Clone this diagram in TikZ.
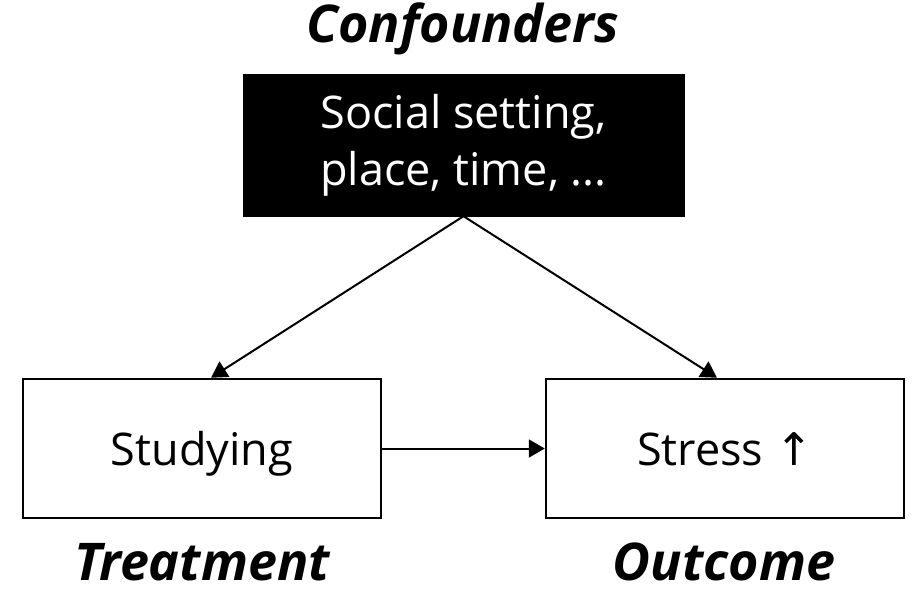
\documentclass[tikz,border=0pt]{standalone}
\usepackage{fontspec}
\setmainfont{Open Sans}
\newfontfamily\arrowfont{DejaVu Sans}
\usetikzlibrary{arrows.meta}
\tikzset{
  box/.style={draw=black, line width=2.5pt, minimum width=358pt, minimum height=139pt,
    inner sep=0pt, text height=33pt, text depth=0pt,
    font=\fontsize{45}{57}\selectfont},
  confbox/.style={fill=black, draw=black, text=white, minimum width=441pt,
    minimum height=142pt, inner sep=0pt, align=center,
    font=\fontsize{45}{57}\selectfont},
  role/.style={font=\fontsize{52}{60}\selectfont\bfseries\itshape, anchor=base, inner sep=0pt},
  link/.style={line width=2pt, -{Triangle[length=16pt,width=18pt]}},
}
\begin{document}
\begin{tikzpicture}[x=1pt,y=-1pt]
  \useasboundingbox (0,0) rectangle (913,591);
  \node[confbox] (conf) at (463.5,145) {Social setting,\\place, time, ...};
  \node[box] (treat) at (202,448.5) {Studying};
  \node[box] (out) at (725,448.5) {Stress {\arrowfont ↑}};
  \node[role] (lconf) at (463,43) {Confounders};
  \node[role] (ltreat) at (202,580) {Treatment};
  \node[role] (lout) at (724,580) {Outcome};
  \coordinate (tin) at ([xshift=9pt]treat.north);
  \coordinate (oin) at ([xshift=-8pt]out.north);
  \draw[link] (conf.south) -- (tin);
  \draw[link] (conf.south) -- (oin);
  \draw[link] (treat.east) -- (out.west);
\end{tikzpicture}
\end{document}
